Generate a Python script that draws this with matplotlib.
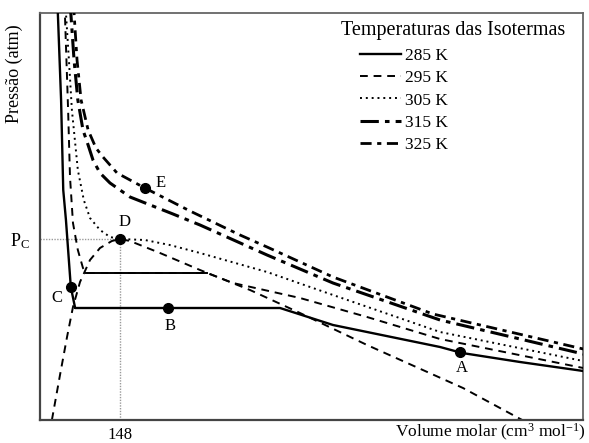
import matplotlib
matplotlib.use("Agg")
import matplotlib.pyplot as plt
from matplotlib.lines import Line2D

plt.rcParams['font.family'] = ['Liberation Serif', 'DejaVu Serif']
plt.rcParams['mathtext.fontset'] = 'custom'
plt.rcParams['mathtext.rm'] = 'Liberation Serif'
plt.rcParams['mathtext.it'] = 'Liberation Serif:italic'

# ---- data (molar volume in cm3/mol, pressure in arbitrary atm units) ----
V_285 = [32, 33, 39, 43, 48, 57, 65, 444, 542, 740, 781, 888, 1005]
P_285 = [104, 101.75, 80, 57.5, 50, 33.25, 28, 28, 23.75, 18.25, 16.75, 14.5, 12.25]

V_295 = [45, 46, 52, 55.5, 61, 70, 79.5, 85, 309, 357, 481, 605, 740, 1005]
P_295 = [104, 101.75, 77.5, 60.75, 49.25, 42.5, 38, 36.75, 36.75, 34.25, 30.5, 25.75, 20.25, 13]

V_305 = [47, 48, 53.5, 59, 70, 81, 92.5, 111, 129.5, 148, 194, 240, 296, 420, 542, 740, 1005]
P_305 = [104, 101.75, 90, 77.5, 62.5, 55, 50.5, 47.5, 45.75, 45.25, 45, 43.75, 41.75, 37, 31.25, 22, 14.75]

V_315 = [56, 57, 63, 70, 79.5, 89, 98, 111, 129.5, 166.5, 246, 296, 420, 542, 740, 1005]
P_315 = [104, 101.75, 90, 80, 72.5, 68.75, 65, 61.75, 59.25, 55.75, 51.5, 48.75, 41.25, 34.25, 25, 16.5]

V_325 = [62, 63, 68.5, 76, 89, 103.5, 116.5, 142.5, 194, 277.5, 370, 420, 542, 727, 1005]
P_325 = [104, 101.75, 90, 80, 72.5, 68, 65.75, 61.75, 58, 52.25, 46.25, 43.25, 35.75, 26.5, 17.75]

V_dome = [22, 37, 50, 61, 74, 92.5, 111, 133, 148, 166.5, 222, 296, 388.5, 481, 605, 782.5, 892]
P_dome = [0, 11.25, 20.75, 28.25, 34.5, 40, 43, 44.75, 45.25, 44.75, 41.75, 37.5, 32.5, 26.75, 18.75, 8, 0]

point_names = ['A', 'B', 'C', 'D', 'E']
point_V = [777, 237, 57.4, 148, 194]
point_P = [16.9, 28, 33.25, 45.25, 58]

V_c = 148
P_c = 45.25

legend_labels = ['285 K', '295 K', '305 K', '315 K', '325 K']

# ---- figure ----
fig = plt.figure(figsize=(5.89, 4.43), dpi=100)
ax = fig.add_axes([40/589, 23/443, 543/589, 407/443])
ax.set_xlim(0, 1004.5)
ax.set_ylim(0, 101.75)

# reference lines for critical point
ax.plot([0, V_c], [P_c, P_c], color='#9a9a9a', lw=1.0, ls=(0, (1, 1)), zorder=1)
ax.plot([V_c, V_c], [0, P_c], color='#9a9a9a', lw=1.0, ls=(0, (1, 1)), zorder=1)

# coexistence dome
ax.plot(V_dome, P_dome, color='black', lw=1.4, ls=(0, (4, 3)), zorder=2)

styles = [
    dict(lw=1.7, ls='-'),
    dict(lw=1.4, ls=(0, (4, 3))),
    dict(lw=1.4, ls=(0, (1, 2))),
    dict(lw=2.2, ls=(0, (6, 2, 1.5, 2))),
    dict(lw=2.0, ls=(0, (4, 2, 1.5, 2))),
]
curves = [(V_285, P_285), (V_295, P_295), (V_305, P_305), (V_315, P_315), (V_325, P_325)]
handles = []
for (v, p), st, lab in zip(curves, styles, legend_labels):
    ax.plot(v, p, color='black', zorder=3, **st)
    handles.append(Line2D([], [], color='black', **st))

# tie lines solid
ax.plot([V_285[6], V_285[7]], [P_285[6], P_285[7]], color='black', lw=1.4, zorder=3)
ax.plot([V_295[7], V_295[8]], [P_295[7], P_295[8]], color='black', lw=1.4, zorder=3)

# points
ax.plot(point_V, point_P, 'o', color='black', ms=7, zorder=5)
offsets = {'A': (1, -11), 'B': (1.5, -13), 'C': (-10, -8), 'D': (3.5, 12), 'E': (11, 3.5)}
for n, v, p in zip(point_names, point_V, point_P):
    ax.annotate(n, (v, p), xytext=offsets[n], textcoords='offset points',
                ha='center', va='center', fontsize=12)

# axes styling
for s in ['left', 'bottom']:
    ax.spines[s].set_color('#444444')
    ax.spines[s].set_linewidth(1.6)
for s in ['top', 'right']:
    ax.spines[s].set_color('#666666')
    ax.spines[s].set_linewidth(1.3)

ax.set_xticks([V_c])
ax.set_xticklabels(['148'], fontsize=12)
ax.set_yticks([P_c])
ax.set_yticklabels([r'P$_{\mathrm{C}}$'], fontsize=13)
ax.tick_params(axis='x', length=0, pad=5)
ax.tick_params(axis='y', length=0, pad=7)

ax.set_ylabel('Pressão (atm)', fontsize=13)
ax.yaxis.set_label_coords(-0.047, 0.85)
ax.yaxis.label.set_va('center')
ax.set_xlabel(r'Volume molar (cm$^3$ mol$^{\mathrm{-1}}$)', fontsize=12.5, ha='right')
ax.xaxis.set_label_coords(1.005, -0.031)
ax.xaxis.label.set_va('center')

# legend
ax.text(0.7606, 0.958, 'Temperaturas das Isotermas', transform=ax.transAxes,
        ha='center', va='center', fontsize=14.5)
ax.legend(handles, legend_labels, loc='upper left', bbox_to_anchor=(0.589, 0.915),
          frameon=False, fontsize=12.5, handlelength=2.4, handletextpad=0.2,
          labelspacing=0.36, borderpad=0, borderaxespad=0)

fig.savefig('out.png', dpi=100)
